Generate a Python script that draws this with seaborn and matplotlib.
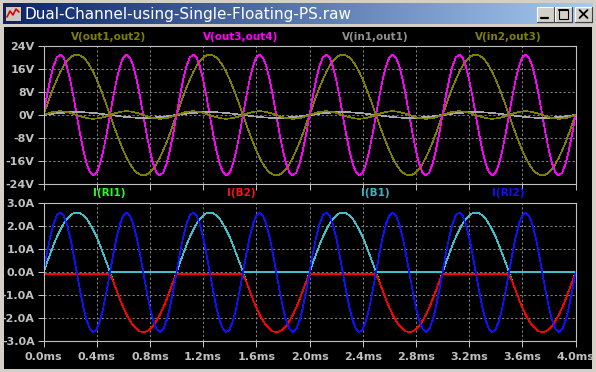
import numpy as np
import pandas as pd
import seaborn as sns
import matplotlib.pyplot as plt
from matplotlib.patches import Rectangle
from matplotlib.colors import LinearSegmentedColormap


# ======================================
# DATA (read off the waveform viewer)
# ======================================

# time grid in ms, 0.025 ms steps over 4 ms
TIME_MS = np.linspace(0, 4, 161)

# one period of each trace, sampled every 0.025 ms
V_OUT3_OUT4 = [0, 6.5, 12.3, 17.0, 20.0, 21.0, 20.0, 17.0, 12.3, 6.5,
               0, -6.5, -12.3, -17.0, -20.0, -21.0, -20.0, -17.0, -12.3, -6.5]

V_OUT1_OUT2 = [0, 3.3, 6.5, 9.5, 12.3, 14.8, 17.0, 18.7, 20.0, 20.7,
               21.0, 20.7, 20.0, 18.7, 17.0, 14.8, 12.3, 9.5, 6.5, 3.3,
               0, -3.3, -6.5, -9.5, -12.3, -14.8, -17.0, -18.7, -20.0, -20.7,
               -21.0, -20.7, -20.0, -18.7, -17.0, -14.8, -12.3, -9.5, -6.5, -3.3]

V_IN1_OUT1 = [0, 0.16, 0.31, 0.45, 0.59, 0.71, 0.81, 0.89, 0.95, 0.99,
              1.0, 0.99, 0.95, 0.89, 0.81, 0.71, 0.59, 0.45, 0.31, 0.16,
              0, -0.16, -0.31, -0.45, -0.59, -0.71, -0.81, -0.89, -0.95, -0.99,
              -1.0, -0.99, -0.95, -0.89, -0.81, -0.71, -0.59, -0.45, -0.31, -0.16]

V_IN2_OUT3 = [0, 0.4, 0.76, 1.05, 1.24, 1.3, 1.24, 1.05, 0.76, 0.4,
              0, -0.4, -0.76, -1.05, -1.24, -1.3, -1.24, -1.05, -0.76, -0.4]

I_RI1 = [0, 0.41, 0.80, 1.18, 1.53, 1.84, 2.10, 2.32, 2.47, 2.57,
         2.60, 2.57, 2.47, 2.32, 2.10, 1.84, 1.53, 1.18, 0.80, 0.41,
         0, -0.41, -0.80, -1.18, -1.53, -1.84, -2.10, -2.32, -2.47, -2.57,
         -2.60, -2.57, -2.47, -2.32, -2.10, -1.84, -1.53, -1.18, -0.80, -0.41]

I_B1 = [0, 0.41, 0.80, 1.18, 1.53, 1.84, 2.10, 2.32, 2.47, 2.57,
        2.60, 2.57, 2.47, 2.32, 2.10, 1.84, 1.53, 1.18, 0.80, 0.41,
        0, 0, 0, 0, 0, 0, 0, 0, 0, 0,
        0, 0, 0, 0, 0, 0, 0, 0, 0, 0]

I_B2 = [-0.07, -0.07, -0.07, -0.07, -0.07, -0.07, -0.07, -0.07, -0.07, -0.07,
        -0.07, -0.07, -0.07, -0.07, -0.07, -0.07, -0.07, -0.07, -0.07, -0.07,
        -0.07, -0.41, -0.80, -1.18, -1.53, -1.84, -2.10, -2.32, -2.47, -2.57,
        -2.60, -2.57, -2.47, -2.32, -2.10, -1.84, -1.53, -1.18, -0.80, -0.41]

I_RI2 = [0, 0.80, 1.53, 2.10, 2.47, 2.60, 2.47, 2.10, 1.53, 0.80,
         0, -0.80, -1.53, -2.10, -2.47, -2.60, -2.47, -2.10, -1.53, -0.80]

V_NAMES = ["V(out1,out2)", "V(out3,out4)", "V(in1,out1)", "V(in2,out3)"]
V_PERIODS = [V_OUT1_OUT2, V_OUT3_OUT4, V_IN1_OUT1, V_IN2_OUT3]
V_COLORS = ["#808000", "#ff00ff", "#a8a8a8", "#808000"]
V_LABEL_COLORS = ["#808000", "#ff00ff", "#909090", "#808000"]

I_NAMES = ["I(RI1)", "I(B2)", "I(B1)", "I(RI2)"]
I_PERIODS = [I_RI1, I_B2, I_B1, I_RI2]
I_COLORS = ["#00ff00", "#ff0000", "#40c0c8", "#1010ff"]
I_LABEL_COLORS = ["#20ff20", "#ff1010", "#40b0c0", "#1010ff"]

LABEL_X = [109, 241, 375, 508]

X_TICKS = [0.0, 0.4, 0.8, 1.2, 1.6, 2.0, 2.4, 2.8, 3.2, 3.6, 4.0]
V_TICKS = [-24, -16, -8, 0, 8, 16, 24]
I_TICKS = [-3.0, -2.0, -1.0, 0.0, 1.0, 2.0, 3.0]

TITLE = "Dual-Channel-using-Single-Floating-PS.raw"


# ======================================
# BUILD LONG TABLES
# ======================================

def repeat_period(period):
    reps = 160 // len(period)
    return np.append(np.tile(period, reps), period[0])


def long_table(names, periods):
    frames = []
    for name, period in zip(names, periods):
        frames.append(pd.DataFrame({
            "t": TIME_MS,
            "value": repeat_period(period),
            "trace": name
        }))
    return pd.concat(frames, ignore_index=True)


df_v = long_table(V_NAMES, V_PERIODS)
df_i = long_table(I_NAMES, I_PERIODS)


# ======================================
# FIGURE + WINDOW CHROME
# ======================================

sns.set_style("dark")
plt.rcParams["font.family"] = ["DejaVu Sans"]

W, H = 596, 372
fig = plt.figure(figsize=(W / 100, H / 100), dpi=100)
fig.patch.set_facecolor("#d4d0c8")

chrome = fig.add_axes([0, 0, 1, 1])
chrome.axis("off")

title_cmap = LinearSegmentedColormap.from_list("title", ["#0a246a", "#a6caf0"])
chrome.imshow(np.linspace(0, 1, 256).reshape(1, -1),
              extent=[3, 593, 24, 3], aspect="auto", cmap=title_cmap)
chrome.set_xlim(0, W)
chrome.set_ylim(H, 0)

# black client area
chrome.add_patch(Rectangle((4, 27), 588, 342, fc="#000000", ec="none"))

# little icon
chrome.add_patch(Rectangle((5, 6), 16, 15, fc="#c8c8c8", ec="#202020", lw=0.7))
chrome.plot([7, 10, 13, 16, 19], [17, 11, 15, 9, 12], color="#e00000", lw=1.2)

chrome.text(24, 14, TITLE, color="white", fontsize=11,
            ha="left", va="center")

# title buttons
for bx in [537, 555, 575]:
    chrome.add_patch(Rectangle((bx, 6.5), 17, 15, fc="#d4d0c8", ec="none"))
    chrome.plot([bx, bx + 17], [6.5, 6.5], color="white", lw=0.8)
    chrome.plot([bx, bx], [6.5, 21.5], color="white", lw=0.8)
    chrome.plot([bx + 17, bx + 17, bx], [6.5, 21.5, 21.5], color="#404040", lw=0.8)

chrome.plot([541, 548], [18, 18], color="black", lw=1.6)
chrome.add_patch(Rectangle((559, 9.5), 9, 9, fc="none", ec="black", lw=0.8))
chrome.plot([559, 568], [10, 10], color="black", lw=1.4)
chrome.plot([579.5, 587.5], [10, 18], color="black", lw=1.3)
chrome.plot([579.5, 587.5], [18, 10], color="black", lw=1.3)


# ======================================
# PLOT PANES
# ======================================

def px_axes(left, top, right, bottom):
    return fig.add_axes([left / W, 1 - bottom / H,
                         (right - left) / W, (bottom - top) / H])


def style_pane(ax, yticks, ylabels, ylim, show_x):
    ax.set_facecolor("#000000")
    ax.set_xlim(0, 4)
    ax.set_ylim(*ylim)
    ax.set_xticks(X_TICKS)
    ax.set_xticklabels([f"{x:.1f}ms" for x in X_TICKS])
    ax.set_yticks(yticks)
    ax.set_yticklabels(ylabels)
    ax.set_xlabel("")
    ax.set_ylabel("")
    ax.grid(True, color="#808080", linestyle=(0, (2.2, 2.2)), linewidth=0.72)
    for sp in ax.spines.values():
        sp.set_visible(True)
        sp.set_color("#c0c0c0")
        sp.set_linewidth(0.8)
    ax.tick_params(axis="both", colors="#c0c0c0", length=4.3, width=0.72,
                   labelsize=8, direction="out", left=True, bottom=True)
    ax.tick_params(axis="y", pad=2)
    ax.tick_params(axis="x", pad=3.5, labelbottom=show_x)
    for lbl in ax.get_xticklabels() + ax.get_yticklabels():
        lbl.set_fontweight("bold")
    # crisp one-pixel traces like the simulator viewer
    for line in ax.lines:
        line.set_antialiased(False)


ax_v = px_axes(43.5, 46, 575.5, 184)
sns.lineplot(
    data=df_v, x="t", y="value", hue="trace",
    hue_order=V_NAMES, palette=dict(zip(V_NAMES, V_COLORS)),
    estimator=None, sort=False, legend=False, linewidth=0.5, ax=ax_v
)
style_pane(ax_v, V_TICKS, [f"{v}V" for v in V_TICKS], (-24, 24), False)

ax_i = px_axes(43.5, 203.3, 575.5, 341.3)
sns.lineplot(
    data=df_i, x="t", y="value", hue="trace",
    hue_order=I_NAMES, palette=dict(zip(I_NAMES, I_COLORS)),
    estimator=None, sort=False, legend=False, linewidth=0.5, ax=ax_i
)
style_pane(ax_i, I_TICKS, [f"{v:.1f}A" for v in I_TICKS], (-3, 3), True)


# ======================================
# TRACE LABELS
# ======================================

for name, color, x in zip(V_NAMES, V_LABEL_COLORS, LABEL_X):
    fig.text(x / W, 1 - 37.5 / H, name, color=color, fontsize=7.5,
             fontweight="bold", ha="center", va="center")

for name, color, x in zip(I_NAMES, I_LABEL_COLORS, LABEL_X):
    fig.text(x / W, 1 - 193 / H, name, color=color, fontsize=7.5,
             fontweight="bold", ha="center", va="center")


fig.savefig("out.png", dpi=100, facecolor=fig.get_facecolor())
